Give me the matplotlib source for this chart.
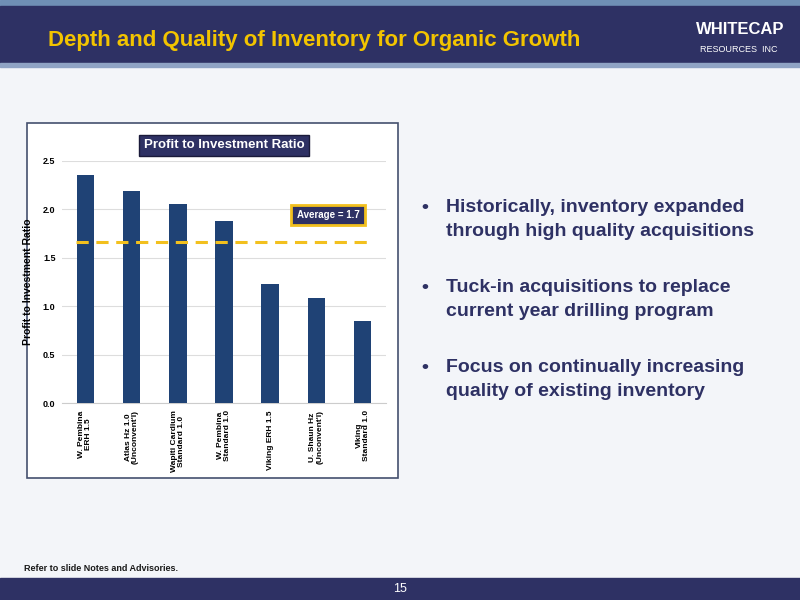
import matplotlib
matplotlib.use("Agg")
import matplotlib.pyplot as plt
from matplotlib.patches import Rectangle

plt.rcParams['font.family'] = ['Liberation Sans', 'DejaVu Sans']

categories = ["W. Pembina\nERH 1.5", "Atlas Hz 1.0\n(Unconvent'l)", "Wapiti Cardium\nStandard 1.0",
              "W. Pembina\nStandard 1.0", "Viking ERH 1.5", "U. Shaun Hz\n(Unconvent'l)", "Viking\nStandard 1.0"]
values = [2.35, 2.19, 2.05, 1.88, 1.23, 1.09, 0.85]
average = 1.66
yticks = [0.0, 0.5, 1.0, 1.5, 2.0, 2.5]
bullets = ["Historically, inventory expanded\nthrough high quality acquisitions",
           "Tuck-in acquisitions to replace\ncurrent year drilling program",
           "Focus on continually increasing\nquality of existing inventory"]

navy = "#2e3164"
bar_c = "#1f4275"
fig = plt.figure(figsize=(8, 6), dpi=100)
fig.patch.set_facecolor("#f3f5f9")
T = fig.transFigure
# header
fig.add_artist(Rectangle((0, 0.99), 1, 0.01, transform=T, color="#6f8fb5", zorder=-5))
fig.add_artist(Rectangle((0, 0.895), 1, 0.095, transform=T, color=navy, zorder=-5))
fig.add_artist(Rectangle((0, 0.888), 1, 0.007, transform=T, color="#8fa3c4", zorder=-5))
fig.text(0.06, 0.933, "Depth and Quality of Inventory for Organic Growth", color="#f2c400",
         fontsize=16, fontweight="bold", va="center")
fig.text(0.87, 0.95, "WHITECAP", color="white", fontsize=12, fontweight="bold", va="center")
fig.text(0.875, 0.918, "RESOURCES  INC", color="white", fontsize=6.5, va="center")
# footer
fig.add_artist(Rectangle((0, 0), 1, 0.037, transform=T, color=navy, zorder=-5))
fig.text(0.5, 0.018, "15", color="white", fontsize=9, ha="center", va="center")
fig.text(0.03, 0.052, "Refer to slide Notes and Advisories.", fontsize=6.5, fontweight="bold", color="#1a1a1a", va="center")

# chart box
fig.add_artist(Rectangle((0.034, 0.203), 0.463, 0.592, transform=T, facecolor="white",
                         edgecolor="#44506e", lw=1.2, zorder=-4))

ax = fig.add_axes([0.078, 0.328, 0.404, 0.404])
ax.set_facecolor("white")
x = range(len(values))
ax.bar(x, values, width=0.38, color=bar_c, zorder=3)
ax.plot([-0.2, 6.2], [average, average], ls=(0, (4, 2.5)), color="#f2c01e", lw=2.2, zorder=4)
ax.set_ylim(0, 2.5)
ax.set_xlim(-0.5, 6.5)
ax.set_yticks(yticks)
ax.set_yticklabels([f"{t:.1f}" for t in yticks], fontsize=6.5, fontweight="bold")
ax.set_xticks(list(x))
ax.set_xticklabels(categories, rotation=90, fontsize=6, fontweight="bold", linespacing=1.0)
ax.tick_params(length=0, pad=5)
ax.yaxis.grid(True, color="#dddddd", lw=0.8, zorder=0)
for s in ax.spines.values():
    s.set_visible(False)
ax.spines["bottom"].set_visible(True)
ax.spines["bottom"].set_color("#cccccc")
ax.set_ylabel("Profit to Investment Ratio", fontsize=7.5, fontweight="bold", labelpad=7)
ax.set_title("Profit to Investment Ratio", fontsize=9.5, fontweight="bold", color="white",
             bbox=dict(boxstyle="square,pad=0.35", fc=navy, ec="#1a1a3a"), pad=9)
ax.text(5.25, 1.94, "Average = 1.7", fontsize=7, fontweight="bold", color="white", ha="center", va="center",
        bbox=dict(boxstyle="square,pad=0.55", fc=navy, ec="#f2c01e", lw=2), zorder=5)

ys = [0.668, 0.535, 0.402]
for y, b in zip(ys, bullets):
    fig.text(0.527, y, "•", fontsize=14, fontweight="bold", color=navy, va="top")
    fig.text(0.557, y, b, fontsize=14, fontweight="bold", color=navy, va="top", linespacing=1.55)

fig.savefig("out.png", dpi=100, facecolor=fig.get_facecolor())
